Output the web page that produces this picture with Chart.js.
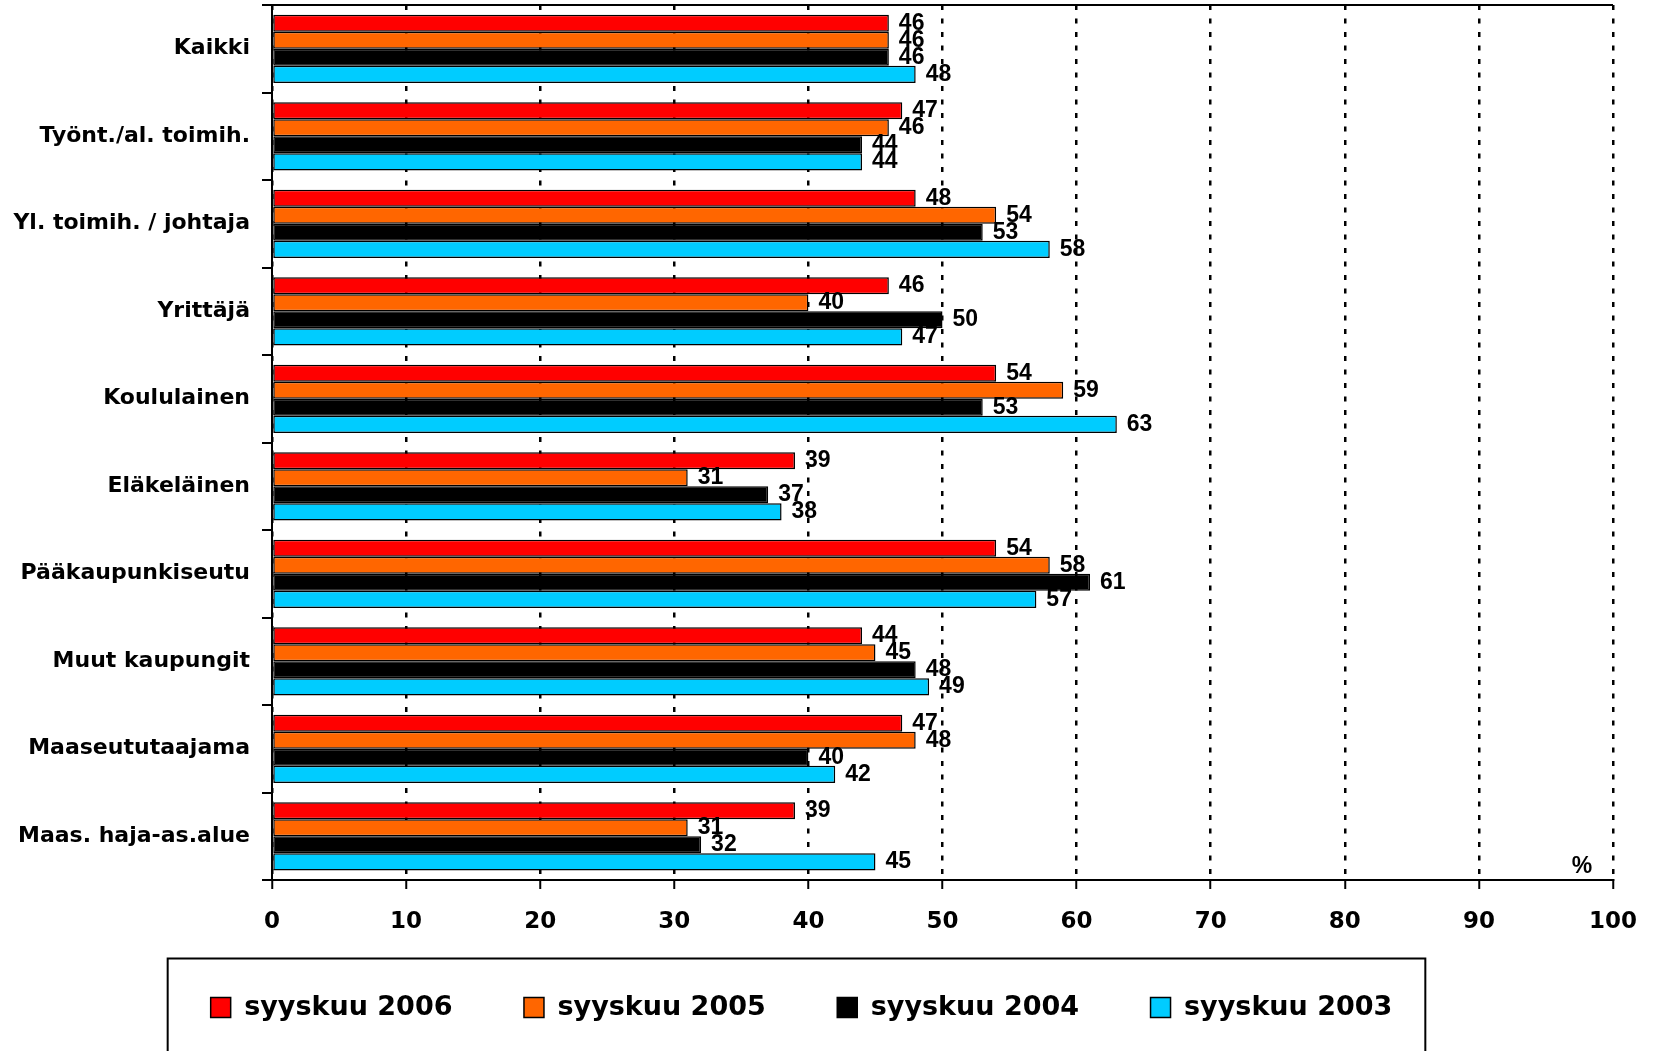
<!DOCTYPE html>
<html>
<head>
<meta charset="utf-8">
<title>syyskuu 2003 - 2006</title>
<script src="https://cdn.jsdelivr.net/npm/chart.js"></script>
<style>
  html, body { margin: 0; padding: 0; background: #fff; }
  .chart-box { width: 1655px; height: 1051px; }
</style>
</head>
<body>
<div class="chart-box"><canvas id="chart" width="1655" height="1051"></canvas></div>
<script>
// Categories (top to bottom) and values per survey
var categories = ['Kaikki', 'Työnt./al. toimih.', 'Yl. toimih. / johtaja', 'Yrittäjä', 'Koululainen',
                  'Eläkeläinen', 'Pääkaupunkiseutu', 'Muut kaupungit', 'Maaseututaajama', 'Maas. haja-as.alue'];
var seriesNames = ['syyskuu 2006', 'syyskuu 2005', 'syyskuu 2004', 'syyskuu 2003'];
var sep2006 = [46, 47, 48, 46, 54, 39, 54, 44, 47, 39];
var sep2005 = [46, 46, 54, 40, 59, 31, 58, 45, 48, 31];
var sep2004 = [46, 44, 53, 50, 53, 37, 61, 48, 40, 32];
var sep2003 = [48, 44, 58, 47, 63, 38, 57, 49, 42, 45];
var xTickValues = [0, 10, 20, 30, 40, 50, 60, 70, 80, 90, 100];

var seriesValues = [sep2006, sep2005, sep2004, sep2003];
var seriesColors = ['#ff0000', '#ff6600', '#000000', '#00ccff'];

Chart.defaults.color = '#000';

// value labels at the bar ends
var valueLabels = {
    id: 'valueLabels',
    afterDatasetsDraw: function(chart) {
        var ctx = chart.ctx;
        ctx.save();
        ctx.font = 'bold 23px "Liberation Sans"';
        ctx.textBaseline = 'middle';
        ctx.textAlign = 'left';
        ctx.fillStyle = '#000';
        chart.data.datasets.forEach(function(ds, i) {
            chart.getDatasetMeta(i).data.forEach(function(bar, j) {
                ctx.fillText(String(ds.data[j]), bar.x + 10, bar.y);
            });
        });
        ctx.restore();
    }
};

// top border, % sign and the frame around the legend
var frame = {
    id: 'frame',
    afterLayout: function(chart) {
        var lg = chart.legend;
        lg.left -= 5;
        lg.right -= 5;
        lg.top -= 20;
        lg.bottom -= 20;
    },
    afterDraw: function(chart) {
        var ctx = chart.ctx;
        var a = chart.chartArea;
        ctx.save();
        ctx.strokeStyle = '#000';
        ctx.lineWidth = 2;
        ctx.beginPath();
        ctx.moveTo(a.left, a.top);
        ctx.lineTo(a.right, a.top);
        ctx.stroke();

        ctx.font = 'bold 23px "Liberation Sans"';
        ctx.fillStyle = '#000';
        ctx.textAlign = 'center';
        ctx.textBaseline = 'middle';
        ctx.fillText('%', a.right - 31, a.bottom - 13);

        var boxes = chart.legend.legendHitBoxes;
        var first = boxes[0], last = boxes[boxes.length - 1];
        var mid = first.top + first.height / 2;
        var left = first.left - 43;
        var right = last.left + last.width + 33;
        ctx.strokeRect(left, mid - 49, right - left, 200);
        ctx.restore();
    }
};

var ctx = document.getElementById('chart').getContext('2d');
var chart = new Chart(ctx, {
    type: 'bar',
    data: {
        labels: categories,
        datasets: seriesNames.map(function(name, i) {
            return {
                label: name,
                data: seriesValues[i],
                backgroundColor: seriesColors[i],
                borderColor: '#000',
                borderWidth: 1.5,
                borderSkipped: false,
                categoryPercentage: 0.78,
                barPercentage: 1.0
            };
        })
    },
    options: {
        indexAxis: 'y',
        responsive: false,
        animation: false,
        layout: { padding: { top: 5, right: 42, bottom: 0, left: 0 } },
        scales: {
            x: {
                min: 0,
                max: 100,
                afterBuildTicks: function(s) {
                    s.ticks = xTickValues.map(function(v) { return { value: v }; });
                },
                afterFit: function(s) {
                    s.height = 62.5;
                    s.paddingLeft = 0;
                    s.paddingRight = 0;
                },
                grid: {
                    color: '#000',
                    lineWidth: 2.5,
                    tickLength: 9,
                    tickWidth: 2
                },
                border: { display: true, color: '#000', width: 2, dash: [5, 8.5] },
                ticks: {
                    padding: 19,
                    font: { family: 'DejaVu Sans', size: 23, weight: 'bold' }
                }
            },
            y: {
                afterFit: function(s) {
                    s.width = 272;
                    s.paddingTop = 0;
                    s.paddingBottom = 0;
                },
                grid: {
                    drawOnChartArea: false,
                    color: '#000',
                    lineWidth: 2,
                    tickLength: 10
                },
                border: { display: true, color: '#000', width: 2 },
                ticks: {
                    padding: 12,
                    font: { family: 'DejaVu Sans', size: 22, weight: 'bold' }
                }
            }
        },
        plugins: {
            legend: {
                position: 'bottom',
                labels: {
                    boxWidth: 20,
                    boxHeight: 20,
                    padding: 71.5,
                    font: { family: 'DejaVu Sans', size: 27, weight: 'bold' }
                }
            },
            tooltip: { enabled: false }
        }
    },
    plugins: [valueLabels, frame]
});
</script>
</body>
</html>
